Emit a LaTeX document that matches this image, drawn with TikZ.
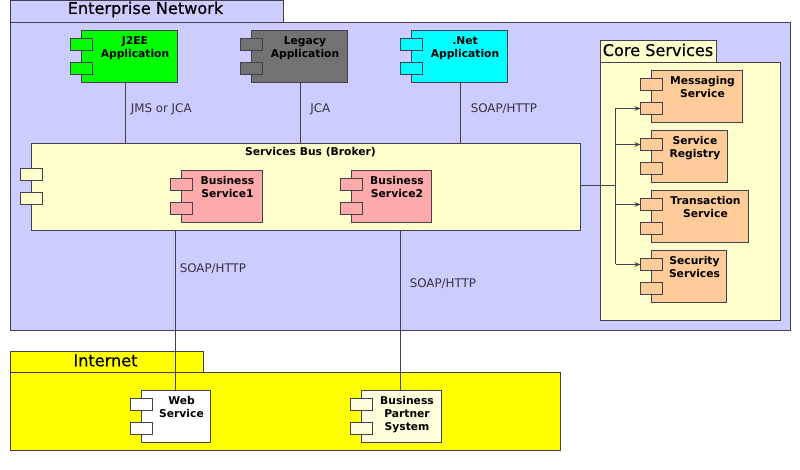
\documentclass[tikz,border=0pt]{standalone}
\usepackage{fontspec}
\setmainfont{DejaVu Sans}
\newfontfamily\titlefont[FakeBold=0.35]{DejaVu Sans}
\usetikzlibrary{arrows.meta}
\definecolor{edgeC}{HTML}{404050}
\definecolor{entC}{HTML}{CCCCFF}
\definecolor{busC}{HTML}{FFFFCC}
\definecolor{bsC}{HTML}{FFAAAA}
\definecolor{coreC}{HTML}{FFCC99}
\definecolor{bpC}{HTML}{FFFFDD}
\definecolor{greenC}{HTML}{00FF00}
\definecolor{cyanC}{HTML}{00FFFF}
\definecolor{yellowC}{HTML}{FFFF00}
\definecolor{grayC}{HTML}{727272}
\definecolor{labelC}{HTML}{333344}
\tikzset{
  x=0.75pt,y=-0.75pt,
  boxst/.style={draw=edgeC,line width=0.75pt,inner sep=0,outer sep=0,rectangle},
  portst/.style={boxst,minimum width=16.5pt,minimum height=9pt},
  comptext/.style={font=\fontsize{8.05}{9.75}\selectfont\bfseries,align=center,inner sep=0,anchor=north,text=black},
  title/.style={font=\titlefont\fontsize{12.1}{14}\selectfont,inner sep=0,text=black},
  link/.style={draw=edgeC,line width=0.75pt},
  linklabel/.style={font=\fontsize{8.9}{10}\selectfont,inner sep=0,anchor=west,text=labelC},
  arrowlink/.style={link,-{Stealth[length=4.5pt,width=3.5pt]}}
}
% name, x1, y1, x2, y2, fill
\newcommand{\boxat}[6]{%
  \pgfmathsetmacro{\bcx}{(#2+#4)/2}\pgfmathsetmacro{\bcy}{(#3+#5)/2}%
  \pgfmathsetmacro{\bw}{(#4-#2)*0.75}\pgfmathsetmacro{\bh}{(#5-#3)*0.75}%
  \node[boxst,fill=#6,minimum width=\bw pt,minimum height=\bh pt] (#1) at (\bcx,\bcy) {};}
% name, x1, y1, x2, fill, text
\newcommand{\compat}[6]{%
  \boxat{#1}{#2}{#3}{#4}{#3+52}{#5}%
  \pgfmathsetmacro{\pcx}{#2}%
  \node[portst,fill=#5] (#1-p1) at (\pcx,#3+14) {};%
  \node[portst,fill=#5] (#1-p2) at (\pcx,#3+38) {};%
  \pgfmathsetmacro{\tcx}{(#2+#4)/2+5.5}%
  \node[comptext] (#1-t) at (\tcx,#3+5.5) {#6};}
\begin{document}
\begin{tikzpicture}
\useasboundingbox (0,0) rectangle (800,470);
\fill[white] (0,0) rectangle (800,470);
\begin{scope}[xshift=0.375pt,yshift=-0.375pt]
% Enterprise Network
\boxat{enttab}{10}{0}{283}{22}{entC}
\boxat{ent}{10}{22}{790}{330}{entC}
\node[title] (entt) at (145,9) {Enterprise Network};
\compat{j2ee}{81}{30}{177}{greenC}{J2EE\\Application}
\compat{legacy}{251}{30}{347}{grayC}{Legacy\\Application}
\compat{dotnet}{411}{30}{507}{cyanC}{.Net\\Application}
% Bus
\boxat{bus}{31}{143}{580}{230}{busC}
\node[portst,fill=busC] (bus-p1) at (31,174) {};
\node[portst,fill=busC] (bus-p2) at (31,198) {};
\node[comptext] (bus-t) at (310,147) {Services Bus (Broker)};
\compat{bs1}{181}{170}{262}{bsC}{Business\\Service1}
\compat{bs2}{351}{170}{431}{bsC}{Business\\Service2}
% Core
\boxat{coretab}{600}{40}{716}{62}{busC}
\boxat{core}{600}{62}{780}{320}{busC}
\node[title] (coret) at (657.5,49.5) {Core Services};
\compat{msg}{651}{70}{742}{coreC}{Messaging\\Service}
\compat{reg}{651}{130}{727}{coreC}{Service\\Registry}
\compat{trans}{651}{190}{748}{coreC}{Transaction\\Service}
\compat{sec}{651}{250}{726}{coreC}{Security\\Services}
% Internet
\boxat{nettab}{10}{351}{203}{372}{yellowC}
\boxat{net}{10}{372}{560}{450}{yellowC}
\node[title] (nett) at (105,360) {Internet};
\compat{web}{141}{390}{210}{white}{Web\\Service}
\compat{bps}{361}{390}{441}{bpC}{Business\\Partner\\System}
% Connector guides
\coordinate (c1) at (125,0);
\coordinate (c2) at (300,0);
\coordinate (c3) at (460,0);
\coordinate (c4) at (175,0);
\coordinate (c5) at (400,0);
\coordinate (trunk) at (615,185);
% Connectors
\draw[link] (c1 |- j2ee.south) -- (c1 |- bus.north);
\draw[link] (c2 |- legacy.south) -- (c2 |- bus.north);
\draw[link] (c3 |- dotnet.south) -- (c3 |- bus.north);
\draw[link] (c4 |- bus.south) -- (c4 |- web.north);
\draw[link] (c5 |- bus.south) -- (c5 |- bps.north);
\draw[link] (bus.east |- trunk) -- (trunk);
\draw[link] (trunk |- msg-p2.west) -- (trunk |- sec-p1.west);
\draw[arrowlink] (trunk |- msg-p2.west) -- (msg-p2.west);
\draw[arrowlink] (trunk |- reg-p1.west) -- (reg-p1.west);
\draw[arrowlink] (trunk |- trans-p1.west) -- (trans-p1.west);
\draw[arrowlink] (trunk |- sec-p1.west) -- (sec-p1.west);
% Labels
\node[linklabel] (l1) at (130,109) {JMS or JCA};
\node[linklabel] (l2) at (309.5,109) {JCA};
\node[linklabel] (l3) at (470,108) {SOAP/HTTP};
\node[linklabel] (l4) at (179,268) {SOAP/HTTP};
\node[linklabel] (l5) at (409,283) {SOAP/HTTP};
\end{scope}
\end{tikzpicture}
\end{document}
